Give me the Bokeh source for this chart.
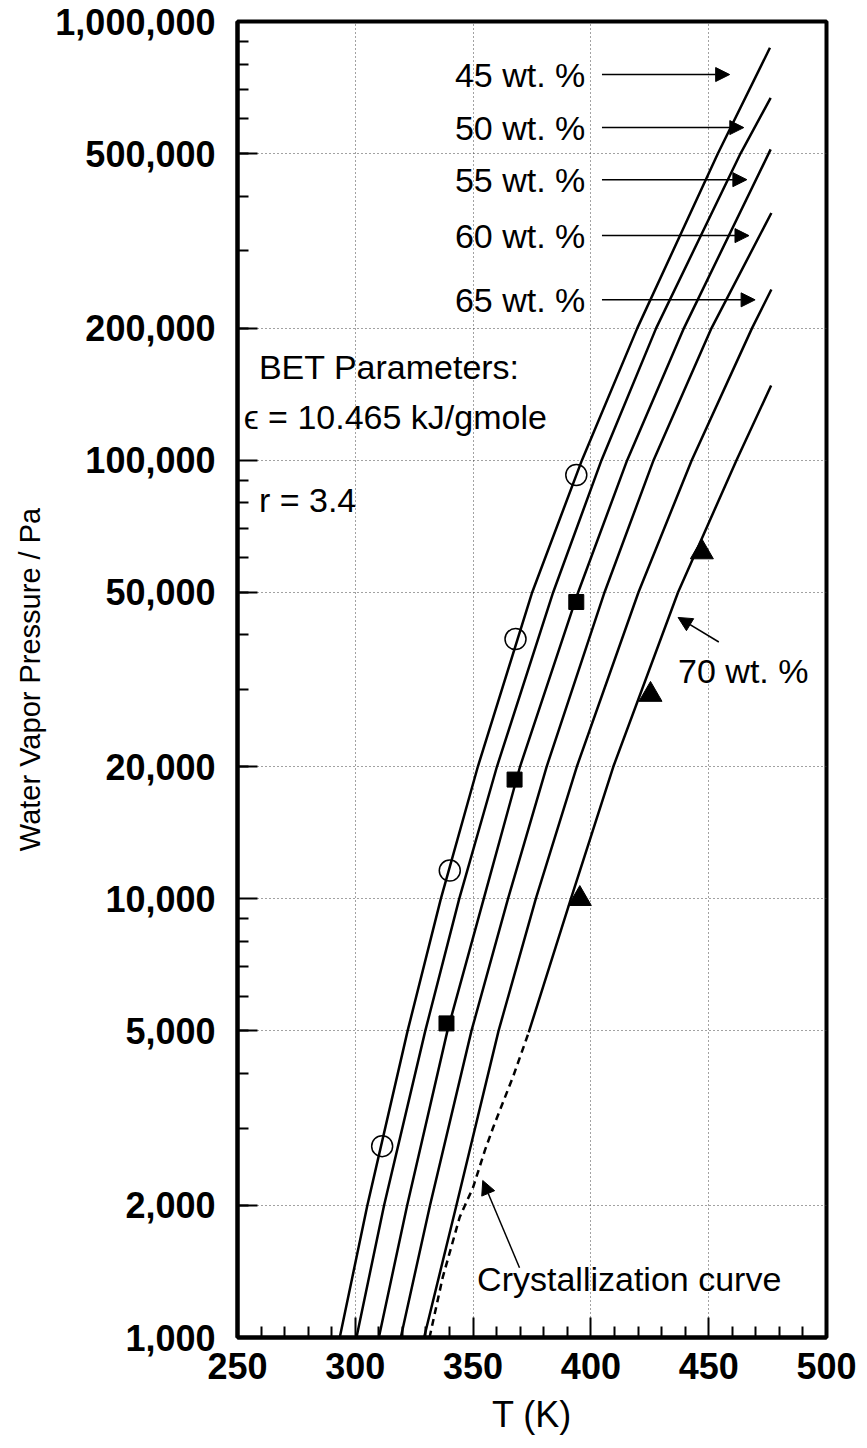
from bokeh.plotting import figure
from bokeh.models import FixedTicker, NumeralTickFormatter, Arrow, NormalHead, Label
from bokeh.embed import file_html
from bokeh.resources import INLINE

# ---------------- data ----------------
P_STD = [1000, 2000, 5000, 10000, 20000, 50000, 100000, 200000]

T45 = [293.4, 305.1, 322.2, 336.3, 352.0, 375.1, 396.2, 419.7, 453.9, 476.0]
P45 = P_STD + [500000, 871000]
T50 = [300.5, 312.2, 329.7, 344.1, 360.1, 384.0, 404.5, 427.7, 463.5, 476.3]
P50 = P_STD + [500000, 670000]
T55 = [310.0, 322.0, 339.1, 354.5, 369.9, 394.6, 415.4, 439.5, 476.3]
P55 = P_STD + [511000]
T60 = [319.3, 331.7, 349.3, 364.8, 381.2, 405.8, 426.6, 451.2, 476.6]
P60 = P_STD + [366000]
T65 = [329.2, 342.9, 360.8, 376.6, 394.0, 420.2, 442.8, 468.4, 476.6]
P65 = P_STD + [245000]
T70 = [373.6, 391.5, 409.5, 437.0, 461.8, 476.5]
P70 = [4960, 10000, 20000, 50000, 100000, 148000]

T_cryst = [331.5, 337.1, 344.3, 350.0, 355.0, 358.6, 367.1, 373.6]
P_cryst = [1000, 1371, 1880, 2200, 2670, 3020, 3950, 4960]

circ_T = [311.4, 340.1, 368.0, 393.8]
circ_P = [2730, 11600, 39100, 92500]
sq_T = [338.7, 367.6, 393.8]
sq_P = [5200, 18700, 47500]
tri_T = [395.3, 425.3, 447.1]
tri_P = [10000, 29200, 61700]

x_ticks = [250, 300, 350, 400, 450, 500]
x_minor = [t for t in range(250, 501, 10) if t % 50 != 0]
y_ticks = [1000, 2000, 5000, 10000, 20000, 50000, 100000, 200000, 500000, 1000000]
y_minor = [m * 10 ** e for e in (3, 4, 5) for m in range(2, 10)]

wt_labels = ["45 wt. %", "50 wt. %", "55 wt. %", "60 wt. %", "65 wt. %"]
wt_label_P = [757000, 573000, 436000, 325000, 232000]
wt_arrow_tip_T = [458.9, 464.9, 466.2, 467.1, 469.7]

FONT = "Liberation Sans"

p = figure(width=859, height=1438, x_range=(250, 500), y_range=(1000, 1000000),
           y_axis_type="log", output_backend="svg", toolbar_location=None,
           min_border_left=237, min_border_top=21, min_border_right=33,
           min_border_bottom=101)
p.background_fill_color = "white"
p.border_fill_color = "white"
p.outline_line_color = "black"
p.outline_line_width = 4

# axes
for ax in (p.xaxis[0], p.yaxis[0]):
    ax.axis_line_width = 4
    ax.major_tick_in = 20
    ax.major_tick_out = 0
    ax.minor_tick_in = 11
    ax.minor_tick_out = 0
    ax.major_tick_line_width = 2
    ax.minor_tick_line_width = 2
    ax.major_label_text_font = FONT
    ax.major_label_text_font_size = "36px"
    ax.major_label_text_font_style = "bold"
    ax.major_label_text_color = "black"
    ax.axis_label_text_font = FONT
    ax.axis_label_text_font_style = "normal"
    ax.axis_label_text_color = "black"

p.xaxis.ticker = FixedTicker(ticks=x_ticks, minor_ticks=x_minor)
p.yaxis.ticker = FixedTicker(ticks=y_ticks, minor_ticks=y_minor)
p.yaxis.formatter = NumeralTickFormatter(format="0,0")
p.xaxis.axis_label = "T (K)"
p.yaxis.axis_label = "Water Vapor Pressure / Pa"
p.xaxis.axis_label_text_font_size = "36px"
p.yaxis.axis_label_text_font_size = "29px"
p.xaxis.major_label_standoff = 15
p.yaxis.major_label_standoff = 22
p.xaxis.axis_label_standoff = 12
p.yaxis.axis_label_standoff = 6

# grid
p.xgrid.ticker = FixedTicker(ticks=[300, 350, 400, 450])
p.ygrid.ticker = FixedTicker(ticks=y_ticks[1:-1])
for g in (p.xgrid[0], p.ygrid[0]):
    g.grid_line_color = "#444444"
    g.grid_line_dash = "1 3"
    g.grid_line_width = 1

# curves
for T, P in ((T45, P45), (T50, P50), (T55, P55), (T60, P60), (T65, P65), (T70, P70)):
    p.line(T, P, line_color="black", line_width=2.5, line_join="round")
p.line(T_cryst, P_cryst, line_color="black", line_width=2.5, line_dash="7 5",
       line_join="round")

# markers
p.scatter(circ_T, circ_P, marker="circle", size=21, fill_color=None,
          line_color="black", line_width=1.5)
p.scatter(sq_T, sq_P, marker="square", size=15, fill_color="black", line_color="black")
p.scatter(tri_T, tri_P, marker="triangle", size=23, fill_color="black", line_color="black")

# annotations
def label(x, y, text, size="34px", align="left"):
    p.add_layout(Label(x=x, y=y, text=text, text_font=FONT, text_font_size=size,
                       text_align=align, text_baseline="middle", text_color="black"))

def arrow(x0, y0, x1, y1):
    p.add_layout(Arrow(end=NormalHead(size=14, fill_color="black", line_color="black"),
                       x_start=x0, y_start=y0, x_end=x1, y_end=y1,
                       line_color="black", line_width=1.5))

for txt, P, tipT in zip(wt_labels, wt_label_P, wt_arrow_tip_T):
    label(342.3, P, txt)
    arrow(404.7, P, tipT, P)

label(437.0, 33000, "70 wt. %")
arrow(454.3, 38500, 437.0, 43800)

label(351.7, 1356, "Crystallization curve")
arrow(369.7, 1442, 354.1, 2280)

label(259.1, 163000, "BET Parameters:")
label(252.6, 125700, "\u03f5 = 10.465 kJ/gmole")
label(259.1, 81100, "r = 3.4")

label(508.0, 1040000, "9", size="18px")

open("out.html", "w").write(file_html(p, INLINE))
